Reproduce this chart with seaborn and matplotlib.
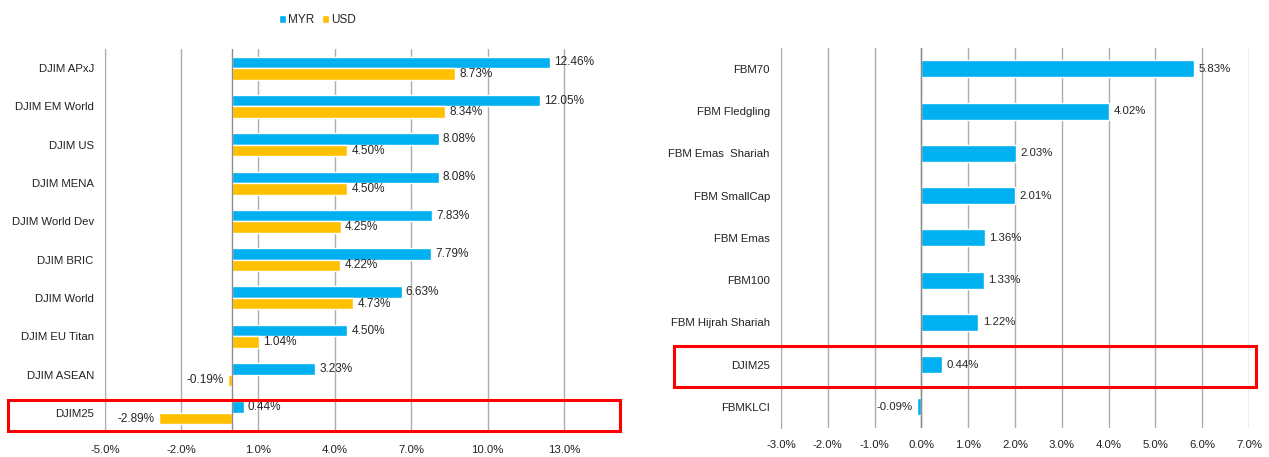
# Recreate MYR/USD return comparison: DJIM indices (left) and FBM indices (right)

import pandas as pd
import matplotlib.pyplot as plt
import seaborn as sns
from matplotlib.patches import Rectangle
from matplotlib.ticker import FuncFormatter

# Data
djim_names = ["DJIM APxJ", "DJIM EM World", "DJIM US", "DJIM MENA", "DJIM World Dev",
              "DJIM BRIC", "DJIM World", "DJIM EU Titan", "DJIM ASEAN", "DJIM25"]
djim_myr = [12.46, 12.05, 8.08, 8.08, 7.83, 7.79, 6.63, 4.50, 3.23, 0.44]
djim_usd = [8.73, 8.34, 4.50, 4.50, 4.25, 4.22, 4.73, 1.04, -0.19, -2.89]

fbm_names = ["FBM70", "FBM Fledgling", "FBM Emas  Shariah", "FBM SmallCap", "FBM Emas",
             "FBM100", "FBM Hijrah Shariah", "DJIM25", "FBMKLCI"]
fbm_myr = [5.83, 4.02, 2.03, 2.01, 1.36, 1.33, 1.22, 0.44, -0.09]

left_ticks = [-5, -2, 1, 4, 7, 10, 13]
right_ticks = [-3, -2, -1, 0, 1, 2, 3, 4, 5, 6, 7]

# Colours
blue = "#00B0F0"
gold = "#FFC000"
grid_color = "#ADADAD"

sns.set_style("white")
plt.rcParams["font.family"] = ["Liberation Sans Narrow", "Liberation Sans", "DejaVu Sans"]

left_df = pd.DataFrame({
    "index": djim_names * 2,
    "ret": djim_myr + djim_usd,
    "cur": ["MYR"] * len(djim_names) + ["USD"] * len(djim_names),
})
right_df = pd.DataFrame({"index": fbm_names, "ret": fbm_myr})

fig = plt.figure(figsize=(12.69, 4.57), dpi=100)
ax1 = fig.add_axes([0.0827, 0.0547, 0.402, 0.838])
ax2 = fig.add_axes([0.6154, 0.0635, 0.3688, 0.832])

pct = FuncFormatter(lambda v, p: f"{v:.1f}%")

# Left: DJIM indices, MYR vs USD
sns.barplot(data=left_df, y="index", x="ret", hue="cur", orient="h",
            palette=[blue, gold], width=0.6, saturation=1, ax=ax1)
handles, labels = ax1.get_legend_handles_labels()
ax1.get_legend().remove()
for cont in ax1.containers:
    ax1.bar_label(cont, labels=[f"{b.get_width():.2f}%" for b in cont], padding=3, fontsize=8.5)
ax1.set_xlim(-5, 15)
ax1.set_ylim(len(djim_names) - 0.5, -0.5)
ax1.set_xticks(left_ticks)

# Right: FBM indices, MYR only
sns.barplot(data=right_df, y="index", x="ret", orient="h", color=blue,
            width=0.4, saturation=1, ax=ax2)
for cont in ax2.containers:
    ax2.bar_label(cont, labels=[f"{b.get_width():.2f}%" for b in cont], padding=3, fontsize=8.2)
ax2.set_xlim(-3, 7)
ax2.set_ylim(len(fbm_names) - 0.5, -0.5)
ax2.set_xticks(right_ticks)

for ax in (ax1, ax2):
    ax.xaxis.set_major_formatter(pct)
    ax.grid(axis="x", color=grid_color, lw=1)
    ax.set_axisbelow(True)
    ax.axvline(0, color="#8C8C8C", lw=1, zorder=1)
    ax.set_xlabel("")
    ax.set_ylabel("")
    for s in ("top", "right", "bottom"):
        ax.spines[s].set_visible(False)
    ax.spines["left"].set_color(grid_color)
    ax.tick_params(length=0, labelsize=8.2, colors="#222222")
    ax.tick_params(axis="x", pad=9)
    ax.tick_params(axis="y", pad=8)

fig.legend(handles, labels, loc="center", bbox_to_anchor=(0.25, 0.956), ncol=2,
           frameon=False, fontsize=8.5, handlelength=0.6, handleheight=0.6,
           handletextpad=0.2, columnspacing=0.6)

# Highlight boxes around DJIM25
fig.patches.append(Rectangle((0.0063, 0.057), 0.482, 0.068, transform=fig.transFigure,
                             fill=False, edgecolor="red", lw=2.2))
fig.patches.append(Rectangle((0.531, 0.153), 0.4586, 0.0897, transform=fig.transFigure,
                             fill=False, edgecolor="red", lw=2.2))

plt.savefig("out.png", dpi=100)
plt.close()
